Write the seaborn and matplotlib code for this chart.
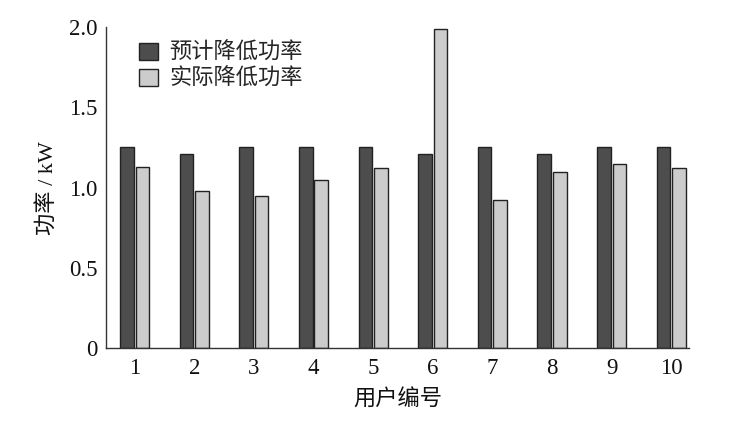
import pandas as pd
import matplotlib
matplotlib.use("Agg")
import matplotlib.pyplot as plt
import seaborn as sns

# 数据
users = ["1", "2", "3", "4", "5", "6", "7", "8", "9", "10"]
expected = [1.25, 1.21, 1.25, 1.25, 1.25, 1.21, 1.25, 1.21, 1.25, 1.25]
actual = [1.13, 0.98, 0.95, 1.05, 1.12, 1.99, 0.92, 1.10, 1.15, 1.12]
series_names = ["预计降低功率", "实际降低功率"]
y_ticks = [0, 0.5, 1.0, 1.5, 2.0]
y_tick_labels = ["0", "0.5", "1.0", "1.5", "2.0"]

df = pd.DataFrame({
    "用户": users * 2,
    "功率": expected + actual,
    "类型": [series_names[0]] * len(users) + [series_names[1]] * len(users),
})

sns.set_theme(style="white")
fonts = ["Liberation Serif", "Noto Sans CJK SC"]
plt.rcParams["font.family"] = fonts

fig = plt.figure(figsize=(7.37, 4.23), dpi=100)
ax = fig.add_axes([0.1438, 0.177, 0.7912, 0.759])

sns.barplot(data=df, x="用户", y="功率", hue="类型",
            palette=["#4d4d4d", "#cccccc"], width=0.52, gap=0.12,
            edgecolor="#222222", linewidth=1.0, saturation=1, ax=ax)

ax.set_ylim(0, 2.0)
ax.set_xlim(-0.48, 9.3)
ax.set_yticks(y_ticks)
ax.set_yticklabels(y_tick_labels)
ax.tick_params(axis="y", direction="in", length=5, width=1, labelsize=16.5, color="#222222", pad=6)
ax.tick_params(axis="x", length=0, labelsize=16.5, pad=7)
for lab in ax.get_xticklabels() + ax.get_yticklabels():
    lab.set_color("#111111")

sns.despine(ax=ax)
for s in ["left", "bottom"]:
    ax.spines[s].set_color("#333333")
    ax.spines[s].set_linewidth(1.0)

ax.set_xlabel("用户编号", fontsize=16, color="#111111", labelpad=8)
ax.set_ylabel("功率 / kW", fontsize=16, color="#111111", labelpad=8)

leg = ax.legend(loc="upper left", bbox_to_anchor=(0.03, 1.0), frameon=False,
                fontsize=16, handlelength=0.85, handleheight=0.85,
                handletextpad=0.5, labelspacing=0.2, borderaxespad=0.3)
for h in leg.legend_handles:
    h.set_edgecolor("#222222")

fig.savefig("out.png", dpi=100)
